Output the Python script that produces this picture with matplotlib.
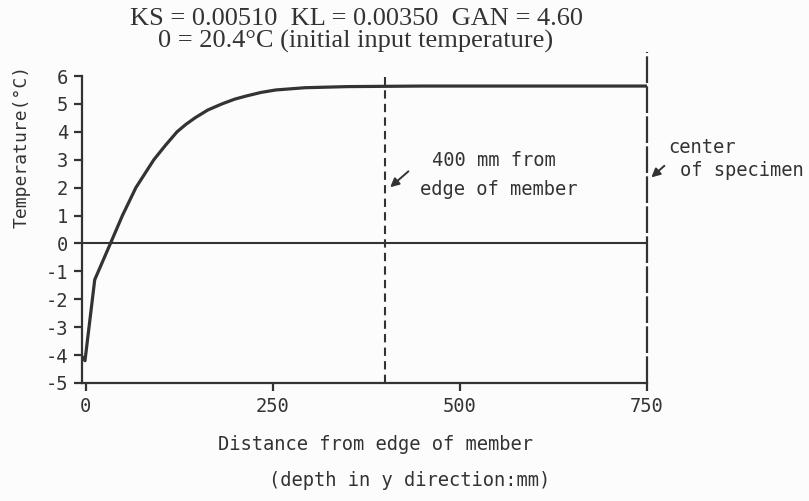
import matplotlib
matplotlib.use("Agg")
from matplotlib import pyplot as plt

# depth from edge of member (mm) and temperature (deg C)
depth = [-5, -1, 12, 33, 41, 49, 58, 67, 79, 91, 106, 122, 134, 146, 163, 182,
         199, 214, 234, 254, 293, 350, 450, 550, 650, 750]
temp = [-4.05, -4.2, -1.3, 0.0, 0.5, 1.0, 1.5, 2.0, 2.5, 3.0, 3.5, 4.0, 4.27, 4.5,
        4.78, 5.0, 5.17, 5.28, 5.41, 5.5, 5.58, 5.62, 5.64, 5.64, 5.64, 5.64]

x_ticks = [0, 250, 500, 750]
y_ticks = [-5, -4, -3, -2, -1, 0, 1, 2, 3, 4, 5, 6]

mark_400 = 400   # 400 mm from edge of member
mark_center = 750  # center of specimen

ink = "#333333"
mono = "DejaVu Sans Mono"
serif = "Liberation Serif"
plt.rcParams["axes.unicode_minus"] = False

fig = plt.figure(figsize=(8.09, 5.01), dpi=100, facecolor="#fcfcfc")
ax = fig.add_axes([82 / 809, 118 / 501, 565 / 809, 307 / 501])
ax.set_facecolor("#fcfcfc")

ax.plot(depth, temp, color=ink, lw=2.3, solid_joinstyle="round")
ax.plot([-5, 750], [0, 0], color=ink, lw=1.5)

# reference lines
ax.plot([mark_400, mark_400], [-5, 5.95], color=ink, lw=1.5,
        linestyle=(0, (4, 2.5)), clip_on=False)
ax.plot([mark_center, mark_center], [-5, 6.85], color=ink, lw=1.6,
        linestyle=(0, (12, 1.5)), clip_on=False)

arrow = dict(arrowstyle="-|>", color=ink, lw=1.4, mutation_scale=13)
ax.annotate("", xy=(404, 1.95), xytext=(434, 2.65), arrowprops=arrow,
            annotation_clip=False)
ax.annotate("", xy=(753, 2.3), xytext=(776, 2.85), arrowprops=arrow,
            annotation_clip=False)

ax.text(463, 2.96, "400 mm from", family=mono, fontsize=13.5, color=ink,
        ha="left", va="center", clip_on=False)
ax.text(447, 1.94, "edge of member", family=mono, fontsize=13.5, color=ink,
        ha="left", va="center", clip_on=False)
ax.text(778, 3.44, "center", family=mono, fontsize=13.5, color=ink,
        ha="left", va="center", clip_on=False)
ax.text(794, 2.60, "of specimen", family=mono, fontsize=13.5, color=ink,
        ha="left", va="center", clip_on=False)

ax.set_xlim(-5, 750)
ax.set_ylim(-5, 6)
ax.set_xticks(x_ticks)
ax.set_yticks(y_ticks)
for side in ["top", "right"]:
    ax.spines[side].set_visible(False)
for side in ["left", "bottom"]:
    ax.spines[side].set_color(ink)
    ax.spines[side].set_linewidth(1.6)
ax.tick_params(direction="out", length=6, width=1.6, color=ink, pad=4,
               labelsize=13.5, labelcolor=ink)
for lab in ax.get_xticklabels() + ax.get_yticklabels():
    lab.set_family(mono)

# header text
fig.text(356 / 809, 0.962, "KS = 0.00510  KL = 0.00350  GAN = 4.60",
         family=serif, fontsize=19, color=ink, ha="center", va="center")
fig.text(356 / 809, 0.918, "0 = 20.4°C (initial input temperature)",
         family=serif, fontsize=19, color=ink, ha="center", va="center")

fig.text(22 / 809, 0.707, "Temperature(°C)", family=mono, fontsize=13,
         color=ink, rotation=90, ha="center", va="center")
fig.text(376 / 809, 0.112, "Distance from edge of member", family=mono,
         fontsize=13.5, color=ink, ha="center", va="center")
fig.text(410 / 809, 0.040, "(depth in y direction:mm)", family=mono,
         fontsize=13.5, color=ink, ha="center", va="center")

fig.savefig("out.png", dpi=100, facecolor=fig.get_facecolor())
